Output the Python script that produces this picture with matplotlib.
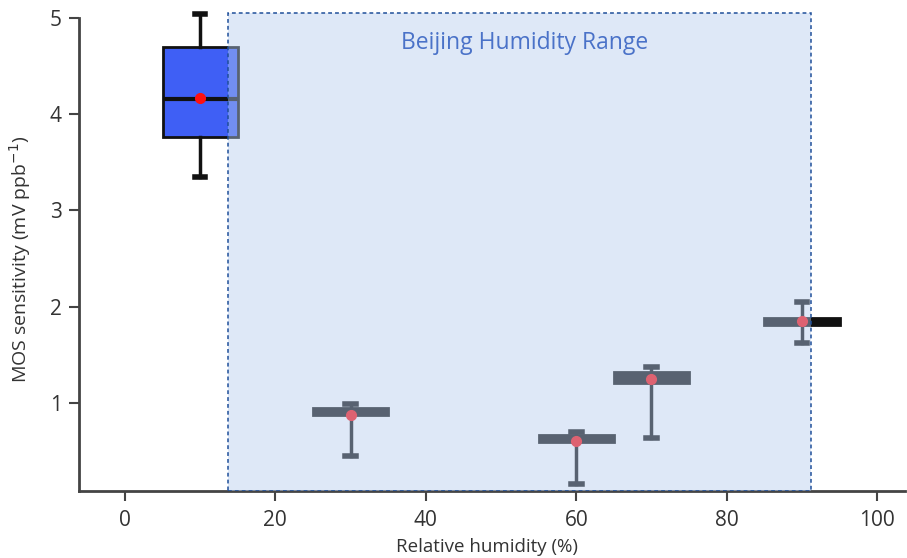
import matplotlib
matplotlib.use("Agg")
import matplotlib.pyplot as plt
from matplotlib.patches import Rectangle

plt.rcParams['font.family'] = ['Open Sans', 'DejaVu Sans']

# Relative humidity set points (%) and box statistics of MOS sensitivity (mV ppb^-1)
rh = [10, 30, 60, 70, 90]
whislo = [3.35, 0.45, 0.16, 0.64, 1.62]
q1 = [3.76, 0.88, 0.59, 1.21, 1.81]
med = [4.16, 0.91, 0.62, 1.27, 1.85]
q3 = [4.69, 0.95, 0.67, 1.32, 1.88]
whishi = [5.04, 0.99, 0.70, 1.37, 2.05]
mean = [4.17, 0.88, 0.60, 1.25, 1.85]
box_colors = ['#3f5ff5', '#111111', '#111111', '#111111', '#111111']

# Typical humidity span in Beijing (%)
beijing_rh = [13.7, 91.2]
beijing_top = 5.05

fig = plt.figure(figsize=(9.07, 5.58), dpi=100)
ax = fig.add_axes([79 / 907, 67 / 558, 826 / 907, 483 / 558])

stats = []
for i in range(len(rh)):
    stats.append(dict(whislo=whislo[i], q1=q1[i], med=med[i], q3=q3[i],
                      whishi=whishi[i], mean=mean[i], fliers=[]))

bp = ax.bxp(stats, positions=rh, widths=10, patch_artist=True,
            showmeans=True, capwidths=1.4,
            boxprops=dict(edgecolor='#111111', linewidth=2),
            medianprops=dict(color='#111111', linewidth=3),
            whiskerprops=dict(color='#111111', linewidth=2.5),
            capprops=dict(color='#111111', linewidth=4),
            meanprops=dict(marker='o', markerfacecolor='#ff1010',
                           markeredgecolor='#ff1010', markersize=7))
for patch, c in zip(bp['boxes'], box_colors):
    patch.set_facecolor(c)
for key in ('boxes', 'medians', 'whiskers', 'caps', 'means'):
    for art in bp[key]:
        art.set_zorder(2)

ylo = 0.086
ax.add_patch(Rectangle((beijing_rh[0], ylo), beijing_rh[1] - beijing_rh[0],
                       beijing_top - ylo, facecolor=(0.71, 0.80, 0.935, 0.44),
                       edgecolor='none', zorder=3))
ax.add_patch(Rectangle((beijing_rh[0], ylo), beijing_rh[1] - beijing_rh[0],
                       beijing_top - ylo, facecolor='none', edgecolor='#1f4f9a',
                       linestyle=(0, (2.5, 2)), linewidth=1.1, zorder=4))
ax.text(53.1, 4.74, 'Beijing Humidity Range', color='#4a72c8',
        fontsize=16.5, ha='center', va='center', zorder=5)

ax.set_xlim(-6.1, 103.7)
ax.set_ylim(ylo, 5.1)
ax.set_xticks([0, 20, 40, 60, 80, 100])
ax.set_xticklabels(['0', '20', '40', '60', '80', '100'])
ax.set_yticks([1, 2, 3, 4, 5])
ax.set_yticklabels(['1', '2', '3', '4', '5'])

for s in ('top', 'right'):
    ax.spines[s].set_visible(False)
for s in ('left', 'bottom'):
    ax.spines[s].set_color('#444444')
    ax.spines[s].set_linewidth(2)
ax.spines['left'].set_bounds(ylo, 5.0)
ax.tick_params(axis='both', direction='out', length=7.5, width=1.5,
               color='#444444', labelsize=15, labelcolor='#333333')
ax.tick_params(axis='y', pad=5)
ax.tick_params(axis='x', pad=6)

ax.set_xlabel('Relative humidity (%)', fontsize=13.5, color='#333333')
ax.set_ylabel('MOS sensitivity (mV ppb$^{-1}$)', fontsize=14, color='#333333')
ax.xaxis.set_label_coords(0.494, -0.097)
ax.yaxis.set_label_coords(-0.056, 0.48)

fig.savefig('out.png', dpi=100)
